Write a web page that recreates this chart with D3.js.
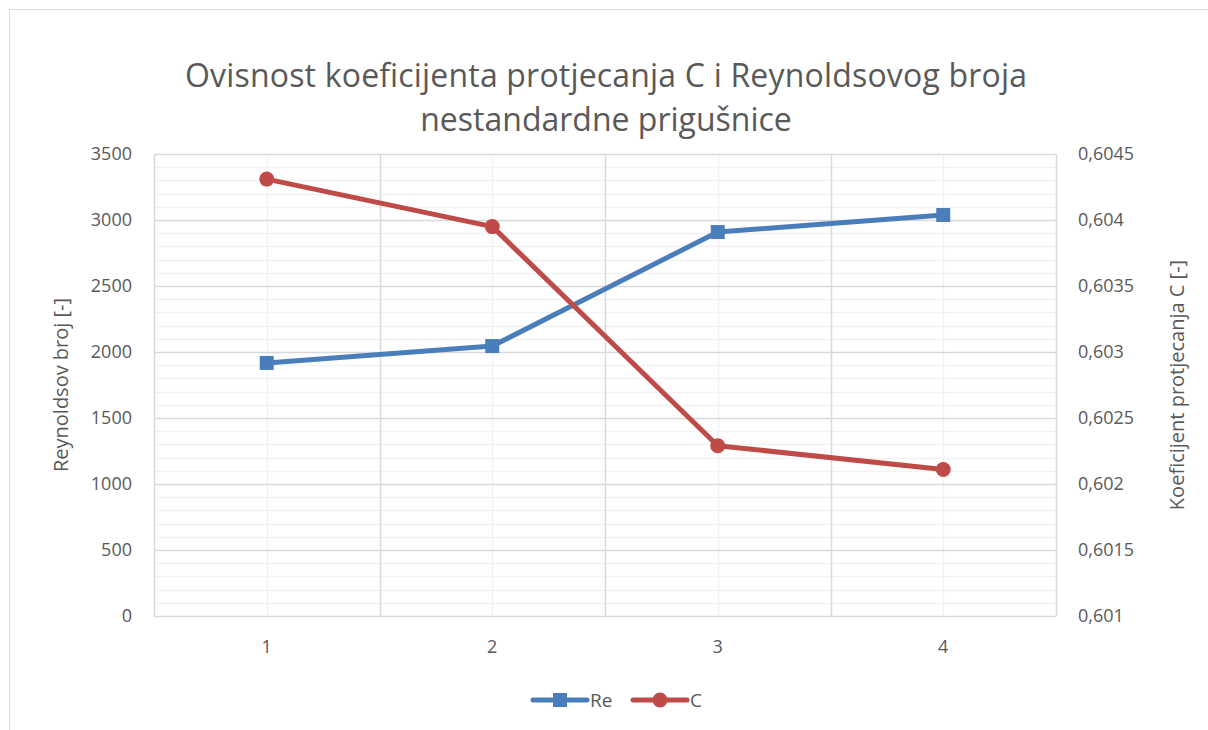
<!DOCTYPE html>
<html>
<head>
<meta charset="utf-8">
<script src="https://cdn.jsdelivr.net/npm/d3@7"></script>
<style>
  body { margin: 0; background: #fff; }
  text { font-family: "Open Sans", "Noto Sans", sans-serif; fill: #595959; }
</style>
</head>
<body>
<div id="chart"></div>
<script>
// data
const categories = ["1", "2", "3", "4"];
const reValues = [1917, 2045, 2909, 3038];
const cValues = [0.60431, 0.60395, 0.60229, 0.60211];
const leftTicks = [0, 500, 1000, 1500, 2000, 2500, 3000, 3500];
const rightTicks = [0.601, 0.6015, 0.602, 0.6025, 0.603, 0.6035, 0.604, 0.6045];

const width = 1208, height = 730;
const plot = { left: 154, right: 1056, top: 154, bottom: 616 };
const blue = "#4a7ebb", red = "#be4b48";

const svg = d3.select("#chart").append("svg")
  .attr("width", width)
  .attr("height", height);

// outer chart border
svg.append("rect")
  .attr("x", 9.5).attr("y", 9.5)
  .attr("width", width + 10).attr("height", height + 10)
  .attr("fill", "#fff")
  .attr("stroke", "#d9d9d9");

const x = d3.scaleBand()
  .domain(categories)
  .range([plot.left, plot.right]);

const yLeft = d3.scaleLinear()
  .domain([0, 3500])
  .range([plot.bottom, plot.top]);

const yRight = d3.scaleLinear()
  .domain([0.601, 0.6045])
  .range([plot.bottom, plot.top]);

const fmtComma = d => String(+d.toFixed(4)).replace(".", ",");

// minor horizontal gridlines every 100
const grid = svg.append("g");
grid.selectAll("line.minor-h")
  .data(d3.range(0, 3501, 100).filter(v => v % 500 !== 0))
  .enter().append("line")
  .attr("x1", plot.left).attr("x2", plot.right)
  .attr("y1", d => Math.round(yLeft(d)) + 0.5)
  .attr("y2", d => Math.round(yLeft(d)) + 0.5)
  .attr("stroke", "#f2f2f2").attr("stroke-width", 1.5);

// minor vertical gridlines at category centers
grid.selectAll("line.minor-v")
  .data(categories)
  .enter().append("line")
  .attr("x1", d => Math.round(x(d) + x.bandwidth() / 2) + 0.5)
  .attr("x2", d => Math.round(x(d) + x.bandwidth() / 2) + 0.5)
  .attr("y1", plot.top).attr("y2", plot.bottom)
  .attr("stroke", "#f2f2f2").attr("stroke-width", 1.5);

// major horizontal gridlines
grid.selectAll("line.major-h")
  .data(leftTicks)
  .enter().append("line")
  .attr("x1", plot.left).attr("x2", plot.right)
  .attr("y1", d => Math.round(yLeft(d)) + 0.5)
  .attr("y2", d => Math.round(yLeft(d)) + 0.5)
  .attr("stroke", "#d9d9d9").attr("stroke-width", 1.5);

// major vertical gridlines at category boundaries
grid.selectAll("line.major-v")
  .data(categories.map((c, i) => i))
  .enter().append("line")
  .attr("x1", i => Math.round(x(categories[0]) + x.bandwidth() * (i + 1)) + 0.5)
  .attr("x2", i => Math.round(x(categories[0]) + x.bandwidth() * (i + 1)) + 0.5)
  .attr("y1", plot.top).attr("y2", plot.bottom)
  .attr("stroke", "#d9d9d9").attr("stroke-width", 1.5);

// left edge of plot
grid.append("line")
  .attr("x1", plot.left + 0.5).attr("x2", plot.left + 0.5)
  .attr("y1", plot.top).attr("y2", plot.bottom)
  .attr("stroke", "#d9d9d9").attr("stroke-width", 1.5);

// axes (text only, Excel style)
const leftAxis = svg.append("g")
  .attr("transform", `translate(${plot.left},0)`)
  .call(d3.axisLeft(yLeft).tickValues(leftTicks).tickSize(0).tickPadding(22).tickFormat(d3.format("d")));
const rightAxis = svg.append("g")
  .attr("transform", `translate(${plot.right},0)`)
  .call(d3.axisRight(yRight).tickValues(rightTicks).tickSize(0).tickPadding(22).tickFormat(fmtComma));
const bottomAxis = svg.append("g")
  .attr("transform", `translate(0,${plot.bottom})`)
  .call(d3.axisBottom(x).tickSize(0).tickPadding(24));

[leftAxis, rightAxis, bottomAxis].forEach(a => {
  a.select(".domain").remove();
  a.selectAll("text")
    .style("font-family", "'Open Sans', sans-serif")
    .style("font-size", "18px")
    .attr("fill", "#595959");
});

// lines
const cx = d => x(d) + x.bandwidth() / 2;

const reLine = d3.line()
  .x((d, i) => cx(categories[i]))
  .y(d => yLeft(d));
const cLine = d3.line()
  .x((d, i) => cx(categories[i]))
  .y(d => yRight(d));

svg.append("path")
  .datum(reValues)
  .attr("d", reLine)
  .attr("fill", "none")
  .attr("stroke", blue)
  .attr("stroke-width", 5)
  .attr("stroke-linejoin", "round");

svg.selectAll("rect.re-pt")
  .data(reValues)
  .enter().append("rect")
  .attr("x", (d, i) => cx(categories[i]) - 7)
  .attr("y", d => yLeft(d) - 7)
  .attr("width", 14).attr("height", 14)
  .attr("fill", blue);

svg.append("path")
  .datum(cValues)
  .attr("d", cLine)
  .attr("fill", "none")
  .attr("stroke", red)
  .attr("stroke-width", 5)
  .attr("stroke-linejoin", "round");

svg.selectAll("circle.c-pt")
  .data(cValues)
  .enter().append("circle")
  .attr("cx", (d, i) => cx(categories[i]))
  .attr("cy", d => yRight(d))
  .attr("r", 7.5)
  .attr("fill", red);

// title
svg.append("text")
  .attr("x", 606).attr("y", 87)
  .attr("text-anchor", "middle")
  .style("font-size", "32px")
  .attr("textLength", 842)
  .text("Ovisnost koeficijenta protjecanja C i Reynoldsovog broja");
svg.append("text")
  .attr("x", 606).attr("y", 131)
  .attr("text-anchor", "middle")
  .style("font-size", "32px")
  .text("nestandardne prigušnice");

// axis titles
svg.append("text")
  .attr("transform", `translate(68,${(plot.top + plot.bottom) / 2}) rotate(-90)`)
  .attr("text-anchor", "middle")
  .style("font-size", "20px")
  .text("Reynoldsov broj [-]");
svg.append("text")
  .attr("transform", `translate(1184,${(plot.top + plot.bottom) / 2}) rotate(-90)`)
  .attr("text-anchor", "middle")
  .style("font-size", "20px")
  .text("Koeficijent protjecanja C [-]");

// legend
const legend = svg.append("g").attr("transform", "translate(0,700)");
const legendItems = [
  { name: "Re", color: blue, x0: 533, shape: "square" },
  { name: "C", color: red, x0: 633, shape: "circle" }
];
legendItems.forEach(it => {
  legend.append("line")
    .attr("x1", it.x0).attr("x2", it.x0 + 54)
    .attr("y1", 0).attr("y2", 0)
    .attr("stroke", it.color).attr("stroke-width", 5)
    .attr("stroke-linecap", "round");
  if (it.shape === "square") {
    legend.append("rect")
      .attr("x", it.x0 + 20).attr("y", -7)
      .attr("width", 14).attr("height", 14)
      .attr("fill", it.color);
  } else {
    legend.append("circle")
      .attr("cx", it.x0 + 27).attr("cy", 0).attr("r", 7.5)
      .attr("fill", it.color);
  }
  legend.append("text")
    .attr("x", it.x0 + 57).attr("y", 7)
    .style("font-size", "19px")
    .text(it.name);
});
</script>
</body>
</html>
